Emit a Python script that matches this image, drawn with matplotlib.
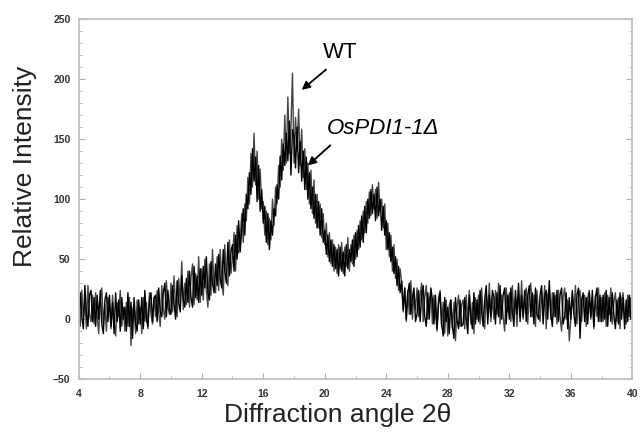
import numpy as np
import matplotlib
matplotlib.use('Agg')
from matplotlib import pyplot as plt
from matplotlib.ticker import MultipleLocator

# 2-theta from 4 to 40 in 0.1 deg steps, one row = one degree
two_theta = np.round(np.arange(4.0, 40.05, 0.1), 1)

wt = [
    18, -6, 24, 2, 16, -8, 28, 4, -2, 20,
    -4, 22, 2, -12, 16, 26, -4, 12, -10, 18,
    12, -8, 20, -2, -14, 14, 2, 24, -6, 10,
    -10, 14, -6, 18, -22, 8, 12, -12, 16, -4,
    10, -12, 18, -2, 14, -8, 22, 4, -4, 18,
    2, 24, 6, -6, 28, 8, 0, 32, 10, 4,
    30, 6, 36, 10, 2, 34, 14, 48, 8, 30,
    12, 40, 10, 34, 46, 12, 38, 16, 52, 14,
    42, 16, 50, 24, 10, 46, 20, 58, 28, 22,
    52, 24, 58, 32, 20, 62, 34, 28, 66, 38,
    52, 72, 40, 78, 55, 66, 88, 64, 96, 82,
    118, 96, 138, 110, 155, 112, 140, 100, 125, 92,
    98, 70, 90, 62, 84, 66, 100, 78, 110, 96,
    128, 110, 150, 124, 170, 130, 185, 138, 160, 205,
    130, 168, 140, 175, 128, 158, 118, 142, 108, 130,
    96, 124, 88, 116, 80, 104, 76, 96, 68, 88,
    62, 80, 52, 72, 46, 66, 40, 60, 38, 62,
    42, 64, 38, 60, 44, 68, 40, 62, 46, 70,
    50, 74, 58, 82, 66, 90, 72, 98, 80, 106,
    86, 112, 92, 108, 84, 114, 90, 100, 76, 96,
    58, 80, 52, 70, 40, 62, 34, 50, 24, 42,
    30, 6, 26, -2, 24, 4, 32, 0, 22, 8,
    26, 2, 20, 30, -2, 18, 28, 0, 16, 24,
    -4, 20, 4, -10, 18, 24, -6, 14, -12, 16,
    -14, 12, 16, -8, 14, -18, 10, 20, -6, 12,
    16, -8, 20, -2, 24, -4, 14, -12, 18, 0,
    20, -4, 26, 2, -8, 22, 4, 30, -2, 18,
    0, 24, 4, 30, -4, 20, 2, -10, 26, 6,
    22, -2, 28, 4, 18, -6, 24, 2, 32, 0,
    18, 26, -4, 22, 30, 2, 20, -6, 24, 4,
    -2, 22, 6, 28, -8, 20, 26, 0, 22, 2,
    20, -4, 24, 2, -10, 18, 26, 0, 16, -18,
    0, 22, 4, 28, -4, 18, 24, -2, 16, 20,
    -6, 18, 24, 0, 16, -8, 20, 2, 26, -2,
    18, -2, 22, -6, 20, 4, 26, -4, 14, 22,
    -2, 18, -8, 16, 22, 0, -4, 20, 2, 18,
    4,
]

ospdi = [
    -4, 22, 2, -8, 28, 6, -6, 20, 24, -2,
    18, -6, 20, 0, 24, -4, -12, 16, 22, -2,
    20, -6, 14, -12, 22, -2, 16, -10, 18, 0,
    10, -10, 22, -6, 14, -16, 18, -4, -10, 16,
    -4, 18, -8, 24, 0, -6, 16, 22, -2, 18,
    20, -2, 26, 6, 2, 22, 30, 2, 24, 8,
    4, 28, 12, 0, 32, 14, 6, 36, 16, 10,
    34, 14, 40, 18, 10, 44, 18, 36, 14, 42,
    20, 44, 26, 52, 22, 16, 48, 30, 22, 46,
    28, 54, 34, 26, 58, 40, 30, 64, 36, 56,
    62, 40, 70, 50, 82, 56, 74, 92, 70, 104,
    92, 122, 104, 142, 115, 135, 98, 128, 90, 108,
    80, 94, 64, 88, 58, 82, 70, 92, 86, 112,
    100, 136, 116, 146, 128, 155, 132, 165, 120, 158,
    152, 126, 160, 122, 148, 115, 140, 108, 135, 100,
    122, 92, 110, 84, 104, 76, 98, 70, 92, 64,
    74, 54, 70, 48, 66, 44, 62, 42, 58, 36,
    60, 40, 56, 36, 62, 42, 58, 48, 66, 44,
    72, 52, 78, 60, 86, 64, 94, 72, 100, 84,
    108, 88, 104, 82, 110, 86, 100, 74, 94, 70,
    82, 58, 72, 48, 60, 38, 52, 28, 44, 22,
    32, 8, 26, 0, 22, 30, 4, 18, 26, -2,
    4, 24, -2, 20, 28, 2, -6, 22, 0, 26,
    16, -4, 20, -8, 12, 22, -4, -14, 18, -2,
    10, -12, 16, -6, -16, 18, 0, -8, 16, -6,
    -4, 18, 0, -12, 20, 2, -8, 22, -4, 16,
    -2, 24, 6, -6, 16, 28, -4, 20, 2, 24,
    18, -4, 22, 2, 28, 0, 20, 26, -4, 20,
    0, 26, 6, -6, 24, 4, 30, -2, 20, 2,
    24, -2, 20, 28, 2, 22, -4, 26, 4, 0,
    20, 28, -4, 18, 24, 0, 32, 4, -6, 22,
    2, 24, -2, 20, 26, -4, 2, 22, -8, 18,
    0, 24, 4, -6, 20, 26, -16, 16, 22, -2,
    18, -4, 22, 2, 24, -6, 18, 26, -2, 20,
    -2, 20, 0, 24, -6, 18, -2, 22, 4, -8,
    16, -4, 22, 0, 18, -8, 16, -2, 20, 0,
    6,
]

x_ticks = [4, 8, 12, 16, 20, 24, 28, 32, 36, 40]
y_ticks = [-50, 0, 50, 100, 150, 200, 250]

plt.rcParams['font.family'] = ['Liberation Sans', 'DejaVu Sans']

fig = plt.figure(figsize=(6.4, 4.44), dpi=100)
ax = fig.add_axes([0.123, 0.146, 0.865, 0.811])

ax.plot(two_theta, wt, color='#444444', lw=1.0)
ax.plot(two_theta, ospdi, color='black', lw=1.0)

ax.set_xlim(4, 40)
ax.set_ylim(-50, 250)
ax.set_xticks(x_ticks)
ax.set_yticks(y_ticks)
ax.yaxis.set_minor_locator(MultipleLocator(10))
ax.xaxis.set_minor_locator(MultipleLocator(2))
ax.tick_params(which='both', direction='in', color='#b0b0b0', right=True)
ax.tick_params(which='major', length=4, labelsize=7.5, labelcolor='#333333')
ax.tick_params(which='minor', length=2)
ax.tick_params(axis='x', which='major', pad=7)
ax.tick_params(axis='y', which='major', pad=6)
for lbl in ax.get_xticklabels() + ax.get_yticklabels():
    lbl.set_fontweight('bold')
for s in ax.spines.values():
    s.set_color('#c0c0c0')
    s.set_linewidth(1.3)

ax.set_xlabel('Diffraction angle 2θ', fontsize=19, color='#222222')
ax.set_ylabel('Relative Intensity', fontsize=19, color='#222222')
ax.xaxis.set_label_coords(0.467, -0.066)
ax.yaxis.set_label_coords(-0.076, 0.59)

ax.annotate('WT', xy=(18.5, 191), xytext=(19.9, 222), fontsize=16,
            va='center', ha='left',
            arrowprops=dict(arrowstyle='-|>', color='black', lw=1.3,
                            mutation_scale=12, shrinkA=4, shrinkB=0,
                            relpos=(0.3, 0.0)))
ax.annotate('OsPDI1-1Δ', xy=(18.9, 128), xytext=(20.1, 159), fontsize=16,
            style='italic', va='center', ha='left',
            arrowprops=dict(arrowstyle='-|>', color='black', lw=1.3,
                            mutation_scale=12, shrinkA=4, shrinkB=0,
                            relpos=(0.1, 0.0)))

fig.savefig('out.png', dpi=100)
